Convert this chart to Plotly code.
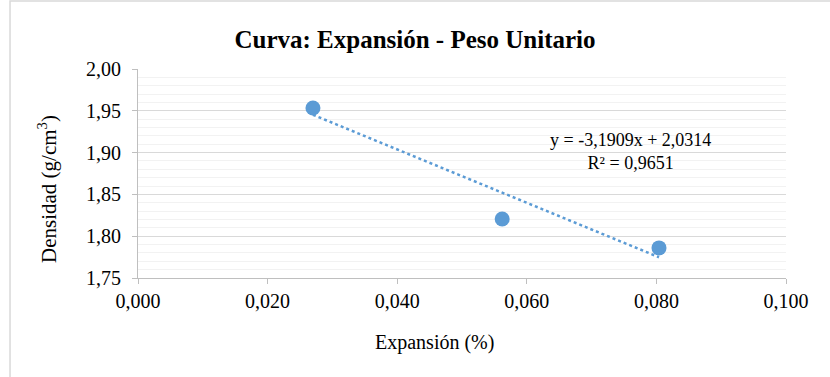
import plotly.graph_objects as go

expansion = [0.0270, 0.0562, 0.0804]
densidad = [1.9533, 1.8206, 1.7860]
trend_slope = -3.1909
trend_intercept = 2.0314
r2 = 0.9651

title_text = "Curva: Expansión - Peso Unitario"
x_title = "Expansión (%)"
y_title = "Densidad (g/cm<sup>3</sup>)"

blue = "#5b9bd5"
serif = "Liberation Serif, Times New Roman, serif"

tx = [min(expansion), max(expansion)]
ty = [trend_slope * v + trend_intercept for v in tx]

fig = go.Figure()
fig.add_trace(go.Scatter(x=tx, y=ty, mode="lines",
                         line=dict(color=blue, width=2.5, dash="dot"),
                         hoverinfo="skip", showlegend=False))
fig.add_trace(go.Scatter(x=expansion, y=densidad, mode="markers",
                         marker=dict(color=blue, size=15),
                         showlegend=False))

eq = "y = {:.4f}x + {:.4f}".format(trend_slope, trend_intercept).replace(".", ",")
r2t = "R² = {:.4f}".format(r2).replace(".", ",")
fig.add_annotation(x=0.0760, y=1.9015, xref="x", yref="y", text=eq + "<br>" + r2t,
                   showarrow=False, align="center",
                   font=dict(family=serif, size=18, color="#000000"))

# axis titles placed as annotations
fig.add_annotation(x=(434.5 - 138) / 648, y=(278 - 342) / 209, xref="paper", yref="paper",
                   text=x_title, showarrow=False, xanchor="center", yanchor="middle",
                   font=dict(family=serif, size=20, color="#000000"))
fig.add_annotation(x=(47 - 138) / 648, y=(278 - 189) / 209, xref="paper", yref="paper",
                   text=y_title, showarrow=False, textangle=-90,
                   xanchor="center", yanchor="middle",
                   font=dict(family=serif, size=21, color="#000000"))

fig.add_shape(type="rect", xref="paper", yref="paper",
              x0=-0.1975, x1=1.3, y0=-1.0, y1=1.325,
              line=dict(color="#d9d9d9", width=1.5), layer="below")

fig.update_layout(
    width=830, height=377,
    margin=dict(l=138, r=44, t=69, b=99),
    paper_bgcolor="white", plot_bgcolor="white",
    separators=",.",
    title=dict(text="<b>" + title_text + "</b>", x=0.5, xanchor="center",
               y=1 - 39 / 377, yanchor="middle",
               font=dict(family=serif, size=25, color="#000000")),
    font=dict(family=serif, size=20, color="#000000"),
    xaxis=dict(range=[0, 0.1], dtick=0.02, tick0=0, tickformat=".3f",
               showgrid=False, zeroline=False,
               showline=True, linecolor="#bfbfbf", linewidth=1,
               ticks="outside", ticklen=5, tickcolor="#bfbfbf",
               tickfont=dict(family=serif, size=20)),
    yaxis=dict(range=[1.75, 2.0], dtick=0.05, tick0=1.75, tickformat=".2f",
               showgrid=True, gridcolor="#d9d9d9", gridwidth=1,
               zeroline=False,
               showline=True, linecolor="#bfbfbf", linewidth=1,
               ticks="outside", ticklen=5, tickcolor="#bfbfbf",
               ticklabelstandoff=7,
               minor=dict(dtick=0.01, showgrid=True, gridcolor="#f2f2f2",
                          gridwidth=1),
               tickfont=dict(family=serif, size=20)),
)

fig.write_html("out.html", post_script="document.body.style.margin='0';",
               config={"displayModeBar": False})
